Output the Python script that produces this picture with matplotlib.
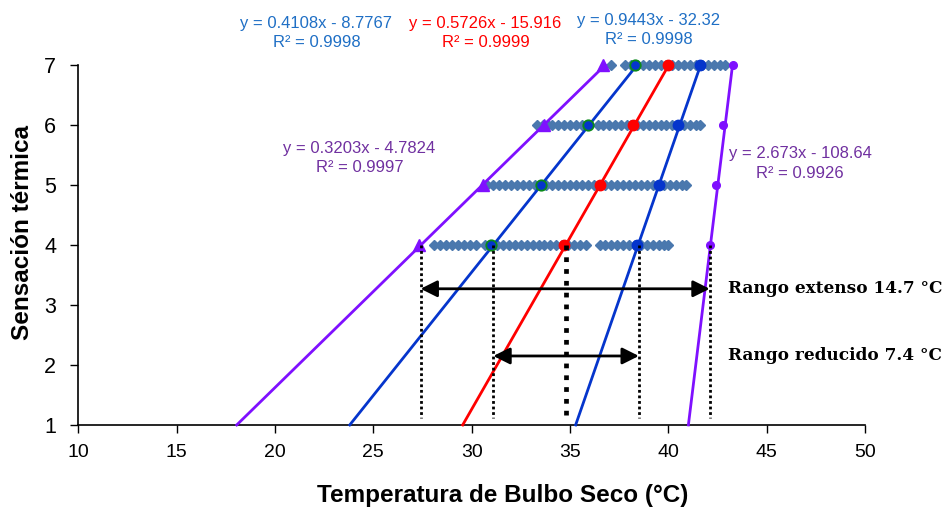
"""Sensación térmica vs temperatura de bulbo seco."""
import matplotlib
matplotlib.use("Agg")
import matplotlib.pyplot as plt

# individual responses (diamonds), one list per sensation level
levels = [4, 5, 6, 7]
obs_4 = [28.1, 28.4, 28.7, 29.0, 29.3, 29.6, 29.9, 30.2,
         30.7, 31.0, 31.3, 31.6, 31.9, 32.2,
         32.5, 32.8, 33.1, 33.4, 33.7, 34.0,
         34.3, 34.6, 34.9, 35.2, 35.5, 35.8,
         36.5,
         36.8, 37.1, 37.4, 37.7, 38.0, 38.3, 38.6, 38.9, 39.2, 39.5, 39.8, 40.0]
obs_5 = [30.8, 31.1, 31.4, 31.7, 32.0, 32.3, 32.6, 32.9, 33.2, 33.5, 33.8, 34.1,
         34.4, 34.7, 35.0, 35.3, 35.6, 35.9, 36.2, 36.5, 36.8, 37.1, 37.4, 37.7,
         38.0, 38.3, 38.6, 38.9, 39.2, 39.5, 39.8, 40.1, 40.4, 40.7, 40.9]
obs_6 = [33.3, 33.6, 33.9, 34.1, 34.4, 34.7, 35.0, 35.3, 35.6, 35.9, 36.4, 36.7,
         37.0, 37.3, 37.6, 37.9, 38.1, 38.4, 38.7, 39.0, 39.3, 39.6, 39.9, 40.2,
         40.5, 40.8, 41.1, 41.4, 41.6]
obs_7 = [37.1, 37.8, 38.1, 38.4, 38.7, 39.0, 39.3, 39.6, 39.9, 40.2, 40.5, 40.8,
         41.1, 41.4, 41.7, 42.0, 42.3, 42.6, 42.9]

# percentile series (marker points) for each sensation level
p_low = [27.3, 30.6, 33.7, 36.7]
p_mid_low = [31.0, 33.5, 35.9, 38.3]
p_mid = [34.7, 36.5, 38.2, 40.0]
p_mid_high = [38.4, 39.5, 40.5, 41.6]
p_high = [42.1, 42.4, 42.8, 43.3]

# trend line coefficients (y = a*x + b) and R²
slopes = [0.3203, 0.4108, 0.5726, 0.9443, 2.673]
intercepts = [-4.7824, -8.7767, -15.916, -32.32, -108.64]
r2 = [0.9997, 0.9998, 0.9999, 0.9998, 0.9926]

# range markers
range_bounds = [27.4, 31.1, 34.8, 38.5, 42.1]
extenso = (27.4, 42.1)
reducido = (31.1, 38.5)

xticks = [10, 15, 20, 25, 30, 35, 40, 45, 50]
yticks = [1, 2, 3, 4, 5, 6, 7]

PURPLE = "#7F10FF"
BLUE = "#0535CC"
RED = "#FF0000"
DIAMOND = "#4A78AE"

plt.rcParams["font.family"] = ["Liberation Sans", "DejaVu Sans"]

fig = plt.figure(figsize=(9.45, 5.12), dpi=100)
ax = fig.add_axes([0.0829, 0.170, 0.8325, 0.703])

for lvl, obs in zip(levels, [obs_4, obs_5, obs_6, obs_7]):
    ax.plot(obs, [lvl] * len(obs), ls="none", marker="D", ms=5.6,
            color=DIAMOND, mec=DIAMOND, zorder=2, clip_on=False)

line_colors = [PURPLE, BLUE, RED, BLUE, PURPLE]
for a, b, c in zip(slopes, intercepts, line_colors):
    ys = [1, 7]
    xs = [(y - b) / a for y in ys]
    ax.plot(xs, ys, color=c, lw=2.0, zorder=3, clip_on=False)

ax.plot(p_low, levels, ls="none", marker="^", ms=9, color=PURPLE, zorder=4, clip_on=False)
ax.plot(p_mid_low, levels, ls="none", marker="o", ms=7.5, color=BLUE,
        mec="#0A8A1A", mew=1.3, zorder=4, clip_on=False)
ax.plot(p_mid, levels, ls="none", marker="o", ms=7.5, color=RED, zorder=4, clip_on=False)
ax.plot(p_mid_high, levels, ls="none", marker="o", ms=7.5, color=BLUE, zorder=4, clip_on=False)
ax.plot(p_high, levels, ls="none", marker="o", ms=5.5, color=PURPLE, zorder=4, clip_on=False)

for i, xb in enumerate(range_bounds):
    thick = i == 2
    ax.plot([xb, xb], [4, 1.12], color="black", zorder=5,
            lw=3.4 if thick else 2.0,
            ls=(0, (1.0, 1.5)) if thick else (0, (1.0, 1.0)))

arrow = dict(arrowstyle="<|-|>,head_length=1.0,head_width=0.5", color="black", lw=2.0,
             shrinkA=0, shrinkB=0)
ax.annotate("", xy=(extenso[1], 3.27), xytext=(extenso[0], 3.27), arrowprops=arrow, zorder=6)
ax.annotate("", xy=(reducido[1], 2.15), xytext=(reducido[0], 2.15), arrowprops=arrow, zorder=6)

serif = dict(family=["DejaVu Serif"], fontweight="bold", fontsize=12.2, va="center", ha="left")
ax.text(43.05, 3.27, f"Rango extenso {extenso[1] - extenso[0]:.1f} °C", **serif)
ax.text(43.05, 2.15, f"Rango reducido {reducido[1] - reducido[0]:.1f} °C", **serif)

label_pos = [(24.3, 5.45), (22.1, 7.54), (30.7, 7.54), (39.0, 7.59), (46.7, 5.36)]
label_colors = ["#7030A0", "#1F6FC5", RED, "#1F6FC5", "#7030A0"]
for a, b, q, (lx, ly), c in zip(slopes, intercepts, r2, label_pos, label_colors):
    txt = f"y = {a:g}x - {abs(b):g}\nR² = {q:g}"
    ax.text(lx, ly, txt, color=c, fontsize=12, ha="center", va="center",
            multialignment="center", linespacing=1.35, clip_on=False)

ax.set_xlim(10, 50)
ax.set_ylim(1, 7)
ax.set_xticks(xticks)
ax.set_yticks(yticks)
ax.tick_params(axis="x", direction="out", length=6, width=1, pad=8, labelsize=14)
ax.tick_params(axis="y", direction="out", length=6, width=1, pad=10, labelsize=15.5)
for side in ("top", "right"):
    ax.spines[side].set_visible(False)
for side in ("left", "bottom"):
    ax.spines[side].set_linewidth(1.2)

ax.set_xlabel("Temperatura de Bulbo Seco (°C)", fontsize=17.5, fontweight="bold")
ax.set_ylabel("Sensación térmica", fontsize=17.5, fontweight="bold")
ax.xaxis.set_label_coords(0.54, -0.165)
ax.yaxis.set_label_coords(-0.056, 0.535)

fig.savefig("out.png", dpi=100)
